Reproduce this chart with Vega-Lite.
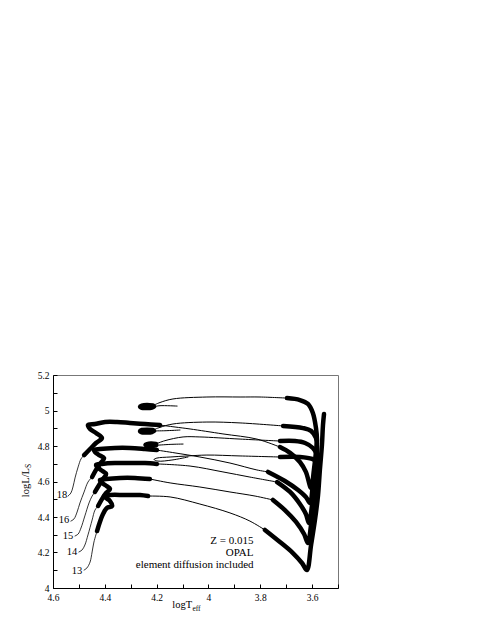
{
  "$schema": "https://vega.github.io/schema/vega-lite/v6.json",
  "width": 285,
  "height": 213,
  "autosize": {"type": "none"},
  "padding": {"left": 53, "top": 375, "right": 142, "bottom": 33},
  "background": "white",
  "config": {
    "view": {"stroke": "#777", "strokeWidth": 1},
    "axis": {"grid": false, "domainColor": "black", "domainWidth": 1, "tickColor": "black", "tickWidth": 1, "labelColor": "black", "labelFont": "Liberation Serif", "labelFontSize": 9.5, "tickSize": -4, "labelFlush": false, "labelOverlap": false},
    "text": {"font": "Liberation Serif", "color": "black"}
  },
  "datasets": {
    "tracks": [
      {"s":"18a","p":"lead","i":0,"T":4.542,"L":4.518},{"s":"18a","p":"lead","i":1,"T":4.531,"L":4.535},{"s":"18a","p":"lead","i":2,"T":4.523,"L":4.569},{"s":"18a","p":"lead","i":3,"T":4.515,"L":4.620},{"s":"18a","p":"lead","i":4,"T":4.503,"L":4.682},{"s":"18a","p":"lead","i":5,"T":4.492,"L":4.727},{"s":"18a","p":"lead","i":6,"T":4.480,"L":4.749},
      {"s":"18b","p":"slow","i":0,"T":4.480,"L":4.749},{"s":"18b","p":"slow","i":1,"T":4.457,"L":4.783},{"s":"18b","p":"slow","i":2,"T":4.434,"L":4.817},{"s":"18b","p":"slow","i":3,"T":4.411,"L":4.845},{"s":"18b","p":"slow","i":4,"T":4.434,"L":4.873},{"s":"18b","p":"slow","i":5,"T":4.457,"L":4.896},{"s":"18b","p":"slow","i":6,"T":4.465,"L":4.918},{"s":"18b","p":"slow","i":7,"T":4.438,"L":4.924},{"s":"18b","p":"slow","i":8,"T":4.399,"L":4.935},{"s":"18b","p":"slow","i":9,"T":4.353,"L":4.935},{"s":"18b","p":"slow","i":10,"T":4.303,"L":4.930},{"s":"18b","p":"slow","i":11,"T":4.245,"L":4.924},{"s":"18b","p":"slow","i":12,"T":4.187,"L":4.918},
      {"s":"18c","p":"fast","i":0,"T":4.187,"L":4.918},{"s":"18c","p":"fast","i":1,"T":4.129,"L":4.907},{"s":"18c","p":"fast","i":2,"T":4.071,"L":4.896},{"s":"18c","p":"fast","i":3,"T":3.944,"L":4.868},{"s":"18c","p":"fast","i":4,"T":3.813,"L":4.839},{"s":"18c","p":"fast","i":5,"T":3.724,"L":4.794},
      {"s":"18d","p":"slow","i":0,"T":3.724,"L":4.794},{"s":"18d","p":"slow","i":1,"T":3.685,"L":4.761},{"s":"18d","p":"slow","i":2,"T":3.647,"L":4.710},{"s":"18d","p":"slow","i":3,"T":3.624,"L":4.654},{"s":"18d","p":"slow","i":4,"T":3.604,"L":4.563},{"s":"18d","p":"slow","i":5,"T":3.593,"L":4.665},{"s":"18d","p":"slow","i":6,"T":3.585,"L":4.766},{"s":"18d","p":"slow","i":7,"T":3.581,"L":4.834},{"s":"18d","p":"slow","i":8,"T":3.585,"L":4.901},{"s":"18d","p":"slow","i":9,"T":3.597,"L":4.986},{"s":"18d","p":"slow","i":10,"T":3.616,"L":5.037},{"s":"18d","p":"slow","i":11,"T":3.647,"L":5.059},{"s":"18d","p":"slow","i":12,"T":3.697,"L":5.070},
      {"s":"18e","p":"fast","i":0,"T":3.697,"L":5.070},{"s":"18e","p":"fast","i":1,"T":3.801,"L":5.076},{"s":"18e","p":"fast","i":2,"T":3.878,"L":5.076},{"s":"18e","p":"fast","i":3,"T":4.006,"L":5.076},{"s":"18e","p":"fast","i":4,"T":4.137,"L":5.065},{"s":"18e","p":"fast","i":5,"T":4.187,"L":5.045},{"s":"18e","p":"fast","i":6,"T":4.214,"L":5.028},
      {"s":"18f","p":"slow","i":0,"T":4.214,"L":5.028},{"s":"18f","p":"slow","i":1,"T":4.237,"L":5.031},{"s":"18f","p":"slow","i":2,"T":4.257,"L":5.028},{"s":"18f","p":"slow","i":3,"T":4.264,"L":5.022},{"s":"18f","p":"slow","i":4,"T":4.257,"L":5.015},{"s":"18f","p":"slow","i":5,"T":4.237,"L":5.014},{"s":"18f","p":"slow","i":6,"T":4.218,"L":5.017},{"s":"18f","p":"slow","i":7,"T":4.210,"L":5.022},
      {"s":"18g","p":"fast","i":0,"T":4.210,"L":5.022},{"s":"18g","p":"fast","i":1,"T":4.187,"L":5.027},{"s":"18g","p":"fast","i":2,"T":4.121,"L":5.025},

      {"s":"16a","p":"lead","i":0,"T":4.531,"L":4.377},{"s":"16a","p":"lead","i":1,"T":4.519,"L":4.389},{"s":"16a","p":"lead","i":2,"T":4.507,"L":4.428},{"s":"16a","p":"lead","i":3,"T":4.496,"L":4.479},{"s":"16a","p":"lead","i":4,"T":4.480,"L":4.541},{"s":"16a","p":"lead","i":5,"T":4.465,"L":4.597},{"s":"16a","p":"lead","i":6,"T":4.449,"L":4.625},
      {"s":"16b","p":"slow","i":0,"T":4.449,"L":4.625},{"s":"16b","p":"slow","i":1,"T":4.434,"L":4.665},{"s":"16b","p":"slow","i":2,"T":4.419,"L":4.699},{"s":"16b","p":"slow","i":3,"T":4.403,"L":4.732},{"s":"16b","p":"slow","i":4,"T":4.422,"L":4.749},{"s":"16b","p":"slow","i":5,"T":4.438,"L":4.766},{"s":"16b","p":"slow","i":6,"T":4.442,"L":4.777},{"s":"16b","p":"slow","i":7,"T":4.419,"L":4.783},{"s":"16b","p":"slow","i":8,"T":4.361,"L":4.789},{"s":"16b","p":"slow","i":9,"T":4.303,"L":4.789},{"s":"16b","p":"slow","i":10,"T":4.245,"L":4.783},{"s":"16b","p":"slow","i":11,"T":4.199,"L":4.777},
      {"s":"16c","p":"fast","i":0,"T":4.199,"L":4.777},{"s":"16c","p":"fast","i":1,"T":4.129,"L":4.761},{"s":"16c","p":"fast","i":2,"T":4.033,"L":4.738},{"s":"16c","p":"fast","i":3,"T":3.917,"L":4.704},{"s":"16c","p":"fast","i":4,"T":3.813,"L":4.665},{"s":"16c","p":"fast","i":5,"T":3.770,"L":4.654},
      {"s":"16d","p":"slow","i":0,"T":3.770,"L":4.654},{"s":"16d","p":"slow","i":1,"T":3.705,"L":4.603},{"s":"16d","p":"slow","i":2,"T":3.654,"L":4.552},{"s":"16d","p":"slow","i":3,"T":3.624,"L":4.513},{"s":"16d","p":"slow","i":4,"T":3.608,"L":4.479},{"s":"16d","p":"slow","i":5,"T":3.597,"L":4.580},{"s":"16d","p":"slow","i":6,"T":3.585,"L":4.693},{"s":"16d","p":"slow","i":7,"T":3.581,"L":4.789},{"s":"16d","p":"slow","i":8,"T":3.585,"L":4.845},{"s":"16d","p":"slow","i":9,"T":3.604,"L":4.885},{"s":"16d","p":"slow","i":10,"T":3.635,"L":4.901},{"s":"16d","p":"slow","i":11,"T":3.712,"L":4.913},
      {"s":"16e","p":"fast","i":0,"T":3.712,"L":4.913},{"s":"16e","p":"fast","i":1,"T":3.878,"L":4.930},{"s":"16e","p":"fast","i":2,"T":4.006,"L":4.935},{"s":"16e","p":"fast","i":3,"T":4.137,"L":4.924},{"s":"16e","p":"fast","i":4,"T":4.187,"L":4.905},{"s":"16e","p":"fast","i":5,"T":4.214,"L":4.890},
      {"s":"16f","p":"slow","i":0,"T":4.214,"L":4.890},{"s":"16f","p":"slow","i":1,"T":4.237,"L":4.892},{"s":"16f","p":"slow","i":2,"T":4.257,"L":4.890},{"s":"16f","p":"slow","i":3,"T":4.264,"L":4.885},{"s":"16f","p":"slow","i":4,"T":4.257,"L":4.877},{"s":"16f","p":"slow","i":5,"T":4.237,"L":4.876},{"s":"16f","p":"slow","i":6,"T":4.218,"L":4.879},{"s":"16f","p":"slow","i":7,"T":4.210,"L":4.885},
      {"s":"16g","p":"fast","i":0,"T":4.210,"L":4.885},{"s":"16g","p":"fast","i":1,"T":4.168,"L":4.886},{"s":"16g","p":"fast","i":2,"T":4.110,"L":4.890},

      {"s":"15a","p":"lead","i":0,"T":4.515,"L":4.293},{"s":"15a","p":"lead","i":1,"T":4.503,"L":4.304},{"s":"15a","p":"lead","i":2,"T":4.492,"L":4.338},{"s":"15a","p":"lead","i":3,"T":4.477,"L":4.406},{"s":"15a","p":"lead","i":4,"T":4.461,"L":4.479},{"s":"15a","p":"lead","i":5,"T":4.449,"L":4.518},{"s":"15a","p":"lead","i":6,"T":4.438,"L":4.541},
      {"s":"15b","p":"slow","i":0,"T":4.438,"L":4.541},{"s":"15b","p":"slow","i":1,"T":4.422,"L":4.580},{"s":"15b","p":"slow","i":2,"T":4.407,"L":4.614},{"s":"15b","p":"slow","i":3,"T":4.395,"L":4.642},{"s":"15b","p":"slow","i":4,"T":4.415,"L":4.665},{"s":"15b","p":"slow","i":5,"T":4.430,"L":4.682},{"s":"15b","p":"slow","i":6,"T":4.434,"L":4.693},{"s":"15b","p":"slow","i":7,"T":4.411,"L":4.699},{"s":"15b","p":"slow","i":8,"T":4.361,"L":4.704},{"s":"15b","p":"slow","i":9,"T":4.303,"L":4.704},{"s":"15b","p":"slow","i":10,"T":4.245,"L":4.704},{"s":"15b","p":"slow","i":11,"T":4.199,"L":4.699},
      {"s":"15c","p":"fast","i":0,"T":4.199,"L":4.699},{"s":"15c","p":"fast","i":1,"T":4.071,"L":4.687},{"s":"15c","p":"fast","i":2,"T":3.944,"L":4.654},{"s":"15c","p":"fast","i":3,"T":3.840,"L":4.625},{"s":"15c","p":"fast","i":4,"T":3.735,"L":4.597},
      {"s":"15d","p":"slow","i":0,"T":3.735,"L":4.597},{"s":"15d","p":"slow","i":1,"T":3.685,"L":4.541},{"s":"15d","p":"slow","i":2,"T":3.647,"L":4.473},{"s":"15d","p":"slow","i":3,"T":3.624,"L":4.417},{"s":"15d","p":"slow","i":4,"T":3.612,"L":4.366},{"s":"15d","p":"slow","i":5,"T":3.600,"L":4.468},{"s":"15d","p":"slow","i":6,"T":3.589,"L":4.580},{"s":"15d","p":"slow","i":7,"T":3.581,"L":4.693},{"s":"15d","p":"slow","i":8,"T":3.581,"L":4.749},{"s":"15d","p":"slow","i":9,"T":3.597,"L":4.789},{"s":"15d","p":"slow","i":10,"T":3.627,"L":4.817},{"s":"15d","p":"slow","i":11,"T":3.666,"L":4.828},{"s":"15d","p":"slow","i":12,"T":3.724,"L":4.828},
      {"s":"15e","p":"fast","i":0,"T":3.724,"L":4.828},{"s":"15e","p":"fast","i":1,"T":3.878,"L":4.839},{"s":"15e","p":"fast","i":2,"T":4.033,"L":4.851},{"s":"15e","p":"fast","i":3,"T":4.098,"L":4.851},{"s":"15e","p":"fast","i":4,"T":4.168,"L":4.830},{"s":"15e","p":"fast","i":5,"T":4.202,"L":4.812},
      {"s":"15f","p":"slow","i":0,"T":4.202,"L":4.812},{"s":"15f","p":"slow","i":1,"T":4.222,"L":4.814},{"s":"15f","p":"slow","i":2,"T":4.237,"L":4.811},{"s":"15f","p":"slow","i":3,"T":4.243,"L":4.807},{"s":"15f","p":"slow","i":4,"T":4.237,"L":4.801},{"s":"15f","p":"slow","i":5,"T":4.218,"L":4.800},{"s":"15f","p":"slow","i":6,"T":4.202,"L":4.804},
      {"s":"15g","p":"fast","i":0,"T":4.202,"L":4.804},{"s":"15g","p":"fast","i":1,"T":4.148,"L":4.809},{"s":"15g","p":"fast","i":2,"T":4.098,"L":4.811},

      {"s":"14a","p":"lead","i":0,"T":4.500,"L":4.203},{"s":"14a","p":"lead","i":1,"T":4.488,"L":4.214},{"s":"14a","p":"lead","i":2,"T":4.477,"L":4.242},{"s":"14a","p":"lead","i":3,"T":4.465,"L":4.299},{"s":"14a","p":"lead","i":4,"T":4.449,"L":4.383},{"s":"14a","p":"lead","i":5,"T":4.438,"L":4.439},{"s":"14a","p":"lead","i":6,"T":4.426,"L":4.462},
      {"s":"14b","p":"slow","i":0,"T":4.426,"L":4.462},{"s":"14b","p":"slow","i":1,"T":4.411,"L":4.501},{"s":"14b","p":"slow","i":2,"T":4.395,"L":4.535},{"s":"14b","p":"slow","i":3,"T":4.380,"L":4.558},{"s":"14b","p":"slow","i":4,"T":4.399,"L":4.580},{"s":"14b","p":"slow","i":5,"T":4.415,"L":4.597},{"s":"14b","p":"slow","i":6,"T":4.419,"L":4.608},{"s":"14b","p":"slow","i":7,"T":4.395,"L":4.614},{"s":"14b","p":"slow","i":8,"T":4.341,"L":4.620},{"s":"14b","p":"slow","i":9,"T":4.284,"L":4.620},{"s":"14b","p":"slow","i":10,"T":4.226,"L":4.614},
      {"s":"14c","p":"fast","i":0,"T":4.226,"L":4.614},{"s":"14c","p":"fast","i":1,"T":4.148,"L":4.592},{"s":"14c","p":"fast","i":2,"T":4.033,"L":4.569},{"s":"14c","p":"fast","i":3,"T":3.917,"L":4.541},{"s":"14c","p":"fast","i":4,"T":3.820,"L":4.518},{"s":"14c","p":"fast","i":5,"T":3.751,"L":4.496},
      {"s":"14d","p":"slow","i":0,"T":3.751,"L":4.496},{"s":"14d","p":"slow","i":1,"T":3.705,"L":4.439},{"s":"14d","p":"slow","i":2,"T":3.662,"L":4.372},{"s":"14d","p":"slow","i":3,"T":3.631,"L":4.304},{"s":"14d","p":"slow","i":4,"T":3.616,"L":4.254},{"s":"14d","p":"slow","i":5,"T":3.604,"L":4.355},{"s":"14d","p":"slow","i":6,"T":3.593,"L":4.468},{"s":"14d","p":"slow","i":7,"T":3.585,"L":4.580},{"s":"14d","p":"slow","i":8,"T":3.577,"L":4.676},{"s":"14d","p":"slow","i":9,"T":3.581,"L":4.710},{"s":"14d","p":"slow","i":10,"T":3.600,"L":4.727},{"s":"14d","p":"slow","i":11,"T":3.647,"L":4.738},{"s":"14d","p":"slow","i":12,"T":3.724,"L":4.738},
      {"s":"14e","p":"fast","i":0,"T":3.724,"L":4.738},{"s":"14e","p":"fast","i":1,"T":3.878,"L":4.744},{"s":"14e","p":"fast","i":2,"T":4.006,"L":4.749},{"s":"14e","p":"fast","i":3,"T":4.079,"L":4.744},{"s":"14e","p":"fast","i":4,"T":4.148,"L":4.738},{"s":"14e","p":"fast","i":5,"T":4.199,"L":4.732},{"s":"14e","p":"fast","i":6,"T":4.210,"L":4.724},{"s":"14e","p":"fast","i":7,"T":4.195,"L":4.715},{"s":"14e","p":"fast","i":8,"T":4.141,"L":4.721},{"s":"14e","p":"fast","i":9,"T":4.079,"L":4.738},

      {"s":"13a","p":"lead","i":0,"T":4.480,"L":4.101},{"s":"13a","p":"lead","i":1,"T":4.469,"L":4.113},{"s":"13a","p":"lead","i":2,"T":4.457,"L":4.146},{"s":"13a","p":"lead","i":3,"T":4.449,"L":4.203},{"s":"13a","p":"lead","i":4,"T":4.442,"L":4.259},{"s":"13a","p":"lead","i":5,"T":4.430,"L":4.321},
      {"s":"13b","p":"slow","i":0,"T":4.430,"L":4.321},{"s":"13b","p":"slow","i":1,"T":4.419,"L":4.372},{"s":"13b","p":"slow","i":2,"T":4.407,"L":4.417},{"s":"13b","p":"slow","i":3,"T":4.392,"L":4.451},{"s":"13b","p":"slow","i":4,"T":4.372,"L":4.462},{"s":"13b","p":"slow","i":5,"T":4.380,"L":4.490},{"s":"13b","p":"slow","i":6,"T":4.395,"L":4.507},{"s":"13b","p":"slow","i":7,"T":4.403,"L":4.518},{"s":"13b","p":"slow","i":8,"T":4.380,"L":4.524},{"s":"13b","p":"slow","i":9,"T":4.322,"L":4.524},{"s":"13b","p":"slow","i":10,"T":4.264,"L":4.524},{"s":"13b","p":"slow","i":11,"T":4.233,"L":4.518},
      {"s":"13c","p":"fast","i":0,"T":4.233,"L":4.518},{"s":"13c","p":"fast","i":1,"T":4.148,"L":4.513},{"s":"13c","p":"fast","i":2,"T":4.033,"L":4.473},{"s":"13c","p":"fast","i":3,"T":3.917,"L":4.423},{"s":"13c","p":"fast","i":4,"T":3.840,"L":4.377},{"s":"13c","p":"fast","i":5,"T":3.782,"L":4.327},
      {"s":"13d","p":"slow","i":0,"T":3.782,"L":4.327},{"s":"13d","p":"slow","i":1,"T":3.724,"L":4.259},{"s":"13d","p":"slow","i":2,"T":3.674,"L":4.197},{"s":"13d","p":"slow","i":3,"T":3.639,"L":4.141},{"s":"13d","p":"slow","i":4,"T":3.620,"L":4.101},{"s":"13d","p":"slow","i":5,"T":3.604,"L":4.242},{"s":"13d","p":"slow","i":6,"T":3.589,"L":4.383},{"s":"13d","p":"slow","i":7,"T":3.577,"L":4.524},{"s":"13d","p":"slow","i":8,"T":3.570,"L":4.665},{"s":"13d","p":"slow","i":9,"T":3.562,"L":4.806},{"s":"13d","p":"slow","i":10,"T":3.558,"L":4.918},{"s":"13d","p":"slow","i":11,"T":3.554,"L":4.980}
    ],
    "masses": [
      {"t":"18","T":4.565,"L":4.524},
      {"t":"16","T":4.558,"L":4.383},
      {"t":"15","T":4.542,"L":4.293},
      {"t":"14","T":4.527,"L":4.203},
      {"t":"13","T":4.507,"L":4.096}
    ],
    "notes": [
      {"t":"Z = 0.015","T":3.826,"L":4.248},
      {"t":"OPAL","T":3.826,"L":4.180},
      {"t":"element diffusion included","T":3.826,"L":4.110}
    ]
  },
  "encoding": {
    "x": {
      "field": "T", "type": "quantitative",
      "scale": {"domain": [3.5, 4.6], "reverse": true, "nice": false, "zero": false},
      "axis": {"title": null, "values": [3.5,3.6,3.7,3.8,3.9,4.0,4.1,4.2,4.3,4.4,4.5,4.6], "labelExpr": "round(datum.value*10) % 2 == 0 ? format(datum.value, '~g') : ''", "labelPadding": 8}
    },
    "y": {
      "field": "L", "type": "quantitative",
      "scale": {"domain": [4, 5.2], "nice": false, "zero": false},
      "axis": {"title": null, "values": [4.0,4.1,4.2,4.3,4.4,4.5,4.6,4.7,4.8,4.9,5.0,5.1,5.2], "labelExpr": "round(datum.value*10) % 2 == 0 ? format(datum.value, '~g') : ''", "labelPadding": 8}
    }
  },
  "layer": [
    {
      "data": {"name": "tracks"},
      "transform": [{"filter": "datum.p == 'lead'"}],
      "mark": {"type": "line", "color": "black", "strokeWidth": 0.8, "interpolate": "catmull-rom", "strokeCap": "round", "strokeJoin": "round"},
      "encoding": {
        "detail": {"field": "s", "type": "nominal"},
        "order": {"field": "i", "type": "quantitative"}
      }
    },
    {
      "data": {"name": "tracks"},
      "transform": [{"filter": "datum.p == 'fast'"}],
      "mark": {"type": "line", "color": "black", "strokeWidth": 1, "interpolate": "catmull-rom", "strokeCap": "round", "strokeJoin": "round"},
      "encoding": {
        "detail": {"field": "s", "type": "nominal"},
        "order": {"field": "i", "type": "quantitative"}
      }
    },
    {
      "data": {"name": "tracks"},
      "transform": [{"filter": "datum.p == 'slow'"}],
      "mark": {"type": "line", "color": "black", "strokeWidth": 4.5, "interpolate": "catmull-rom", "strokeCap": "round", "strokeJoin": "round"},
      "encoding": {
        "detail": {"field": "s", "type": "nominal"},
        "order": {"field": "i", "type": "quantitative"}
      }
    },
    {
      "data": {"name": "masses"},
      "mark": {"type": "text", "fontSize": 10.5, "align": "center", "baseline": "middle"},
      "encoding": {"text": {"field": "t"}}
    },
    {
      "data": {"name": "notes"},
      "mark": {"type": "text", "fontSize": 11, "align": "right", "baseline": "alphabetic"},
      "encoding": {"text": {"field": "t"}}
    },
    {
      "data": {"values": [{"t": "logT", "T": 4.063, "L": 3.887}]},
      "mark": {"type": "text", "fontSize": 10.5, "align": "right", "baseline": "alphabetic"},
      "encoding": {"text": {"field": "t"}}
    },
    {
      "data": {"values": [{"t": "eff", "T": 4.062, "L": 3.887}]},
      "mark": {"type": "text", "fontSize": 7.5, "align": "left", "baseline": "alphabetic", "dy": 3},
      "encoding": {"text": {"field": "t"}}
    },
    {
      "data": {"values": [{"t": "logL/L", "T": 4.693, "L": 4.676}]},
      "mark": {"type": "text", "fontSize": 10.5, "angle": 270, "align": "right", "baseline": "alphabetic"},
      "encoding": {"text": {"field": "t"}}
    },
    {
      "data": {"values": [{"t": "S", "T": 4.693, "L": 4.676}]},
      "mark": {"type": "text", "fontSize": 7.5, "angle": 270, "align": "left", "baseline": "alphabetic", "dy": 2},
      "encoding": {"text": {"field": "t"}}
    }
  ]
}
